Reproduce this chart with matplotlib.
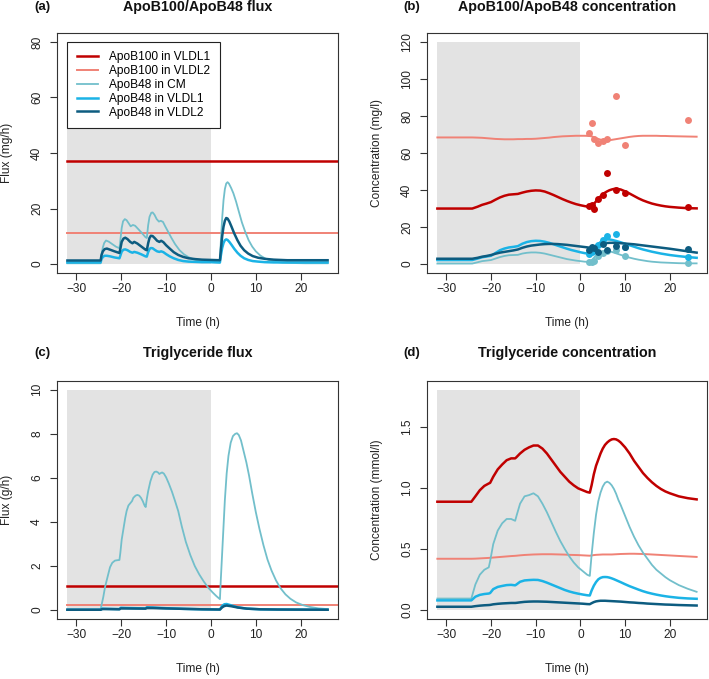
import matplotlib
matplotlib.use("Agg")
import matplotlib.pyplot as plt
from matplotlib.ticker import FormatStrFormatter

plt.rcParams['font.family'] = ['Liberation Sans', 'DejaVu Sans']

# ---------------- data ----------------
labels = ['ApoB100 in VLDL1', 'ApoB100 in VLDL2', 'ApoB48 in CM',
          'ApoB48 in VLDL1', 'ApoB48 in VLDL2']
colors = ['#C00000', '#F08276', '#72BFCB', '#1BB3E6', '#0D5C80']
widths = [1.8, 1.4, 1.3, 1.8, 1.8]

fasting = [-32, 0]          # grey shaded night/fasting window
time_span = [-32, 30]       # constant fluxes

# (a) ApoB flux (mg/h)
a_apob100_vldl1 = [37.2, 37.2]
a_apob100_vldl2 = [11.2, 11.2]
a_t_cm = [-32, -24.6, -24.4, -24.1, -23.8, -23.4, -22.8, -22.0, -21.2, -20.4,
          -20.2, -19.9, -19.6, -19.2, -18.8, -18.3, -17.9, -17.4, -16.9, -16.2,
          -15.4, -14.6, -14.3, -14.0, -13.7, -13.3, -13.0, -12.6, -12.1, -11.6,
          -11.2, -10.7, -10.2, -9.6, -8.8, -8.0, -7.0, -6.0, -5.0, -4.0,
          -3.0, -2.0, -1.0, 0.0, 1.0, 2.0, 2.2, 2.5, 2.8, 3.1,
          3.4, 3.7, 4.0, 4.5, 5.0, 5.6, 6.2, 6.9, 7.6, 8.4,
          9.2, 10.0, 11.0, 12.0, 13.0, 14.5, 16.0, 18.0, 21.0, 26.0]
a_cm = [0.3, 0.3, 3.5, 6.0, 7.6, 8.5, 8.1, 7.2, 6.3, 5.7,
        8.5, 13.0, 15.4, 16.2, 15.8, 14.6, 13.6, 14.1, 13.8, 12.6,
        11.2, 9.7, 9.4, 14.0, 17.0, 18.5, 18.6, 17.8, 16.2, 15.3,
        15.6, 15.2, 13.6, 11.8, 9.4, 7.2, 5.0, 3.5, 2.5, 1.8,
        1.3, 1.0, 0.8, 0.7, 0.6, 0.5, 8.0, 16.5, 23.0, 27.0,
        29.0, 29.5, 29.0, 27.4, 25.5, 22.5, 19.0, 15.0, 11.8, 8.6,
        6.3, 4.6, 3.1, 2.1, 1.4, 0.8, 0.5, 0.4, 0.3, 0.3]
a_t = [-32, -24.6, -24.4, -24.1, -23.7, -23.2, -22.5, -21.5, -20.4, -20.2,
       -19.9, -19.5, -19.1, -18.6, -18.0, -17.5, -17.1, -16.4, -15.5, -14.6,
       -14.3, -14.0, -13.7, -13.4, -13.0, -12.5, -12.0, -11.5, -11.1, -10.6,
       -10.0, -9.2, -8.3, -7.3, -6.2, -5.0, -3.5, -2.0, 0.0, 2.0,
       2.2, 2.5, 2.8, 3.1, 3.4, 3.7, 4.1, 4.6, 5.2, 5.9,
       6.6, 7.4, 8.3, 9.3, 10.5, 12.0, 14.0, 17.0, 26.0]
a_vldl1 = [0.6, 0.6, 1.8, 2.6, 3.0, 3.0, 2.8, 2.4, 2.1, 3.0,
           4.5, 5.2, 5.3, 5.0, 4.4, 4.1, 4.4, 4.1, 3.5, 2.8,
           2.7, 4.3, 5.4, 5.8, 5.7, 5.1, 4.6, 4.4, 4.6, 4.3,
           3.6, 2.8, 2.1, 1.5, 1.1, 0.9, 0.8, 0.7, 0.7, 0.6,
           3.0, 5.8, 7.6, 8.6, 8.9, 8.7, 8.0, 6.9, 5.5, 4.1,
           3.0, 2.1, 1.5, 1.1, 0.9, 0.7, 0.6, 0.6, 0.6]
a_vldl2 = [1.3, 1.3, 3.2, 4.6, 5.4, 5.6, 5.2, 4.6, 4.0, 5.5,
           8.0, 9.2, 9.5, 9.0, 8.0, 7.5, 8.0, 7.4, 6.3, 5.2,
           5.0, 7.5, 9.4, 10.2, 10.1, 9.3, 8.4, 8.0, 8.4, 7.9,
           6.8, 5.6, 4.3, 3.3, 2.6, 2.1, 1.8, 1.6, 1.5, 1.4,
           5.0, 10.0, 13.5, 15.6, 16.6, 16.4, 15.3, 13.4, 11.0, 8.6,
           6.6, 5.0, 3.8, 2.9, 2.3, 1.9, 1.6, 1.4, 1.4]

# (b) ApoB concentration (mg/l), model curves
b_t = [-32, -24.2, -23, -22, -21, -20, -19, -18, -17, -16, -15, -14, -13, -12,
       -11, -10, -9, -8, -7, -6, -5, -4, -3, -2, -1, 0, 1, 2, 2.5, 3, 3.5, 4,
       4.5, 5, 5.5, 6, 6.5, 7, 7.5, 8, 9, 10, 11, 12, 13, 14, 15, 16, 17, 18,
       19, 20, 22, 24, 26]
b_apob100_vldl1 = [30.0, 30.0, 31.0, 32.0, 32.7, 33.5, 34.8, 36.0, 36.9, 37.5,
                   37.7, 37.9, 38.6, 39.2, 39.6, 39.8, 39.7, 39.2, 38.3, 37.3,
                   36.2, 35.1, 34.1, 33.2, 32.4, 31.8, 31.3, 30.9, 31.4, 32.5,
                   33.9, 35.3, 36.6, 37.7, 38.6, 39.3, 39.9, 40.3, 40.6, 40.7,
                   40.3, 39.3, 38.1, 36.8, 35.5, 34.4, 33.5, 32.7, 32.1, 31.6,
                   31.2, 30.9, 30.5, 30.2, 30.1]
b_apob100_vldl2 = [68.4, 68.4, 68.3, 68.2, 68.0, 67.8, 67.6, 67.5, 67.4, 67.4,
                   67.4, 67.5, 67.5, 67.6, 67.6, 67.7, 67.9, 68.1, 68.3, 68.6,
                   68.8, 69.0, 69.1, 69.2, 69.3, 69.3, 69.3, 69.2, 69.0, 68.6,
                   68.1, 67.6, 67.2, 66.9, 66.8, 66.8, 66.9, 67.1, 67.3, 67.5,
                   67.9, 68.3, 68.7, 69.0, 69.2, 69.3, 69.3, 69.3, 69.3, 69.2,
                   69.2, 69.1, 69.0, 68.9, 68.8]
b_cm = [0.3, 0.3, 1.0, 1.6, 1.9, 2.2, 3.0, 3.8, 4.4, 4.8,
        4.9, 5.0, 5.7, 6.1, 6.3, 6.3, 6.1, 5.7, 5.1, 4.5,
        3.9, 3.3, 2.7, 2.3, 1.9, 1.6, 1.3, 1.2, 2.0, 3.4,
        4.7, 5.7, 6.4, 6.8, 7.0, 7.0, 6.9, 6.6, 6.2, 5.8,
        5.0, 4.2, 3.5, 2.9, 2.4, 2.0, 1.6, 1.3, 1.1, 0.9,
        0.8, 0.7, 0.5, 0.4, 0.4]
b_vldl1 = [2.2, 2.2, 3.0, 3.7, 4.1, 4.5, 6.0, 7.5, 8.4, 9.0,
           9.3, 9.7, 11.0, 11.9, 12.4, 12.6, 12.5, 12.1, 11.5, 10.7,
           9.9, 9.1, 8.3, 7.6, 7.0, 6.4, 5.9, 5.6, 6.3, 7.8,
           9.4, 10.8, 11.9, 12.7, 13.1, 13.3, 13.3, 13.1, 12.8, 12.5,
           11.8, 11.0, 10.2, 9.4, 8.6, 7.9, 7.3, 6.7, 6.2, 5.7,
           5.3, 4.9, 4.3, 3.8, 3.4]
b_vldl2 = [2.9, 2.9, 3.4, 4.0, 4.4, 4.9, 5.6, 6.2, 6.6, 7.0,
           7.4, 7.9, 8.8, 9.5, 10.0, 10.3, 10.6, 10.8, 10.9, 10.9,
           10.8, 10.6, 10.4, 10.1, 9.8, 9.5, 9.2, 8.9, 9.0, 9.4,
           9.9, 10.4, 10.8, 11.1, 11.3, 11.4, 11.5, 11.5, 11.5, 11.4,
           11.3, 11.1, 10.9, 10.7, 10.4, 10.1, 9.8, 9.5, 9.2, 8.9,
           8.6, 8.3, 7.6, 6.9, 6.2]

# (b) measured concentrations
obs_t = [2, 2.5, 3, 4, 5, 6, 8, 10, 24]
obs_apob100_vldl1 = [31.5, 31.8, 29.9, 35.4, 37.2, 49.0, 40.0, 38.3, 30.8]
obs_apob100_vldl2 = [70.9, 76.4, 67.4, 65.4, 66.5, 67.8, 91.0, 64.5, 77.8]
obs_cm = [1.4, 1.3, 1.6, 4.2, 6.0, 7.0, 7.8, 4.2, 0.5]
obs_vldl1 = [5.4, 6.5, 7.5, 10.5, 13.0, 15.4, 16.4, 9.5, 3.6]
obs_vldl2 = [7.8, 9.3, 8.5, 6.3, 10.9, 7.8, 10.0, 9.1, 8.2]

# (c) triglyceride flux (g/h)
c_tg_vldl1 = [1.08, 1.08]
c_tg_vldl2 = [0.22, 0.22]
c_t_cm = [-32, -24.6, -24.0, -23.6, -23.0, -22.5, -22.0, -21.4, -20.8, -20.4,
          -20.2, -19.9, -19.5, -19.1, -18.8, -18.4, -18.0, -17.6, -17.3, -16.8,
          -16.4, -16.0, -15.6, -15.2, -14.8, -14.55, -14.3, -14.0, -13.5, -13.0,
          -12.6, -12.2, -11.8, -11.5, -11.2, -10.9, -10.5, -10.0, -9.4, -8.7,
          -8.0, -7.3, -6.5, -5.6, -4.6, -3.6, -2.6, -1.6, -0.6, 0.4,
          1.2, 2.0, 2.2, 2.5, 2.8, 3.1, 3.5, 3.9, 4.4, 4.9,
          5.4, 5.8, 6.2, 6.7, 7.3, 7.9, 8.5, 9.2, 10.0, 10.8,
          11.7, 12.6, 13.5, 14.5, 15.5, 16.6, 17.7, 19.0, 20.5, 22.0,
          24.0, 26.0]
c_cm = [0.03, 0.03, 0.6, 1.06, 1.55, 1.95, 2.15, 2.25, 2.27, 2.28,
        2.6, 3.2, 3.7, 4.2, 4.5, 4.75, 4.85, 4.95, 5.1, 5.2,
        5.23, 5.2, 5.1, 4.95, 4.75, 4.68, 5.05, 5.4, 5.85, 6.15,
        6.27, 6.29, 6.25, 6.18, 6.22, 6.25, 6.2, 6.03, 5.75, 5.38,
        4.95, 4.5, 3.8, 3.1, 2.5, 2.0, 1.62, 1.3, 1.02, 0.8,
        0.64, 0.5, 1.4, 2.6, 3.8, 5.0, 6.2, 7.0, 7.6, 7.9,
        8.0, 8.03, 7.95, 7.7, 7.2, 6.7, 6.1, 5.3, 4.45, 3.7,
        2.95, 2.3, 1.8, 1.35, 1.0, 0.72, 0.52, 0.35, 0.23, 0.15,
        0.08, 0.05]
c_t = [-32, -24.6, -24.2, -23.0, -20.4, -20.1, -19.0, -14.6, -14.3, -13.0,
       -10.0, -6.0, -2.0, 2.0, 2.5, 3.0, 3.5, 4.5, 6.0, 8.0, 11.0, 15.0, 26.0]
c_vldl1 = [0.02, 0.02, 0.07, 0.06, 0.05, 0.11, 0.10, 0.08, 0.13, 0.12,
           0.09, 0.06, 0.04, 0.03, 0.20, 0.27, 0.28, 0.22, 0.13, 0.07,
           0.04, 0.03, 0.02]
c_vldl2 = [0.02, 0.02, 0.05, 0.05, 0.04, 0.08, 0.08, 0.07, 0.10, 0.10,
           0.08, 0.06, 0.04, 0.03, 0.13, 0.19, 0.21, 0.18, 0.12, 0.07,
           0.04, 0.03, 0.02]

# (d) triglyceride concentration (mmol/l)
d_t = [-32, -24.4, -23.5, -22.5, -21.5, -20.5, -20.2, -19.5, -18.5, -17.5,
       -16.5, -15.5, -14.6, -14.3, -13.5, -12.5, -11.5, -10.5, -9.5, -8.5,
       -7.5, -6.5, -5.5, -4.5, -3.5, -2.5, -1.5, -0.5, 0.5, 1.5,
       2.1, 2.5, 3.0, 3.5, 4.0, 4.5, 5.0, 5.5, 6.0, 6.5,
       7.0, 7.5, 8.0, 8.5, 9.0, 10.0, 11.0, 12.0, 13.0, 14.0,
       15.0, 16.0, 17.0, 18.0, 19.0, 20.0, 22.0, 24.0, 26.0]
d_tg_vldl1 = [.886, .886, .93, .98, 1.015, 1.035, 1.04, 1.09, 1.15, 1.19,
              1.225, 1.24, 1.24, 1.25, 1.28, 1.31, 1.33, 1.345, 1.345, 1.32,
              1.28, 1.23, 1.18, 1.13, 1.09, 1.05, 1.02, .995, .98, .965,
              .96, 1.02, 1.11, 1.18, 1.23, 1.28, 1.32, 1.35, 1.37, 1.385,
              1.395, 1.398, 1.395, 1.385, 1.37, 1.33, 1.28, 1.22, 1.17, 1.12,
              1.08, 1.045, 1.015, .99, .97, .955, .93, .915, .905]
d_tg_vldl2 = [.42, .42, .421, .423, .425, .427, .428, .43, .433, .436,
              .439, .442, .444, .445, .448, .451, .453, .455, .456, .457,
              .457, .457, .456, .455, .454, .452, .451, .45, .448, .446,
              .445, .447, .45, .452, .453, .454, .455, .455, .455, .455,
              .455, .456, .457, .458, .459, .46, .461, .461, .46, .459,
              .457, .455, .453, .451, .449, .447, .443, .439, .435]
d_cm = [.095, .095, .21, .29, .33, .35, .40, .54, .65, .71,
        .745, .745, .73, .77, .87, .93, .94, .955, .93, .87,
        .80, .72, .64, .565, .50, .44, .39, .35, .32, .29,
        .28, .45, .63, .78, .89, .96, 1.01, 1.04, 1.05, 1.04,
        1.02, .99, .95, .90, .86, .77, .68, .60, .53, .47,
        .42, .37, .33, .30, .27, .245, .205, .175, .15]
d_vldl1 = [.08, .08, .11, .125, .132, .136, .14, .172, .19, .198,
           .205, .207, .203, .21, .232, .243, .246, .248, .247, .238,
           .225, .21, .195, .18, .165, .153, .143, .135, .128, .122,
           .12, .16, .2, .23, .252, .264, .27, .271, .27, .266,
           .26, .253, .245, .237, .229, .212, .196, .182, .168, .155,
           .144, .135, .127, .12, .114, .109, .101, .096, .093]
d_vldl2 = [.028, .028, .033, .037, .04, .042, .043, .048, .052, .055,
           .057, .059, .059, .06, .064, .068, .07, .071, .071, .07,
           .069, .067, .065, .063, .061, .059, .057, .055, .053, .05,
           .049, .057, .066, .072, .075, .077, .077, .077, .076, .075,
           .074, .073, .072, .071, .07, .067, .064, .062, .059, .057,
           .054, .052, .05, .048, .046, .045, .042, .04, .038]

x_ticks = [-30, -20, -10, 0, 10, 20]

# ---------------- figure ----------------
W, H = 709, 679
fig = plt.figure(figsize=(W / 100, H / 100), dpi=100)


def make_axes(left, top, right, bottom):
    return fig.add_axes([left / W, 1 - bottom / H, (right - left) / W, (bottom - top) / H])


def style(ax, ylo, yhi, yticks, ylabel, title, letter, title_gap):
    x0, x1 = -32, 26
    xp = 0.04 * (x1 - x0)
    yp = 0.04 * (yhi - ylo)
    ax.set_xlim(x0 - xp, x1 + xp)
    ax.set_ylim(ylo - yp, yhi + yp)
    ax.fill_between(fasting, ylo, yhi, color='#E3E3E3', lw=0, zorder=0)
    ax.set_xticks(x_ticks)
    ax.set_yticks(yticks)
    ax.tick_params(direction='out', length=5, width=0.8, color='#333333',
                   labelsize=8.6, labelcolor='#222222')
    ax.tick_params(axis='x', pad=2.5)
    ax.tick_params(axis='y', labelrotation=90, pad=5)
    for lab in ax.get_yticklabels():
        lab.set_va('center')
    for sp in ax.spines.values():
        sp.set_linewidth(0.8)
        sp.set_color('#333333')
    bb = ax.get_position()
    wpx = bb.width * W
    hpx = bb.height * H
    ax.set_xlabel('Time (h)', fontsize=8.6, va='center', color='#222222')
    ax.xaxis.set_label_coords(0.5, -50 / hpx)
    ax.set_ylabel(ylabel, fontsize=8.6, va='center', color='#222222')
    ax.yaxis.set_label_coords(-50 / wpx, 0.5)
    ty = 1 + title_gap / hpx
    ax.text(0.5, ty, title, transform=ax.transAxes, ha='center', va='center',
            fontsize=10.3, fontweight='bold', color='#111111')
    ax.text(-15 / wpx, ty, letter, transform=ax.transAxes, ha='center', va='center',
            fontsize=9.5, fontweight='bold', color='#111111')


# (a)
ax = make_axes(57, 33, 338, 273)
style(ax, 0, 80, [0, 20, 40, 60, 80], 'Flux (mg/h)', 'ApoB100/ApoB48 flux', '(a)', 26)
lines = []
lines += ax.plot(time_span, a_apob100_vldl1, color=colors[0], lw=widths[0])
lines += ax.plot(time_span, a_apob100_vldl2, color=colors[1], lw=widths[1])
lines += ax.plot(a_t_cm, a_cm, color=colors[2], lw=widths[2])
lines += ax.plot(a_t, a_vldl1, color=colors[3], lw=widths[3])
lines += ax.plot(a_t, a_vldl2, color=colors[4], lw=widths[4])
leg = ax.legend(lines, labels, loc='upper left', bbox_to_anchor=(-32, 80),
                bbox_transform=ax.transData, borderaxespad=0, fancybox=False,
                edgecolor='#222222', framealpha=1, fontsize=8.6, handlelength=1.8,
                handletextpad=0.9, borderpad=0.8, labelspacing=0.15)
leg.get_frame().set_linewidth(0.8)

# (b)
ax = make_axes(427, 33, 707, 273)
style(ax, 0, 120, [0, 20, 40, 60, 80, 100, 120], 'Concentration (mg/l)',
      'ApoB100/ApoB48 concentration', '(b)', 26)
ax.plot(b_t, b_apob100_vldl1, color=colors[0], lw=widths[0])
ax.plot(b_t, b_apob100_vldl2, color=colors[1], lw=widths[1])
ax.plot(b_t, b_cm, color=colors[2], lw=widths[2])
ax.plot(b_t, b_vldl1, color=colors[3], lw=widths[3])
ax.plot(b_t, b_vldl2, color=colors[4], lw=widths[4])
for obs, c in zip([obs_apob100_vldl1, obs_apob100_vldl2, obs_cm, obs_vldl1, obs_vldl2], colors):
    ax.plot(obs_t, obs, 'o', color=c, ms=5, mec='none')

# (c)
ax = make_axes(57, 381, 338, 619)
style(ax, 0, 10, [0, 2, 4, 6, 8, 10], 'Flux (g/h)', 'Triglyceride flux', '(c)', 28)
ax.plot(time_span, c_tg_vldl1, color=colors[0], lw=widths[0])
ax.plot(time_span, c_tg_vldl2, color=colors[1], lw=widths[1])
ax.plot(c_t_cm, c_cm, color=colors[2], lw=widths[2])
ax.plot(c_t, c_vldl1, color=colors[3], lw=widths[3])
ax.plot(c_t, c_vldl2, color=colors[4], lw=widths[4])

# (d)
ax = make_axes(427, 381, 707, 619)
style(ax, 0, 1.8, [0.0, 0.5, 1.0, 1.5], 'Concentration (mmol/l)',
      'Triglyceride concentration', '(d)', 28)
ax.yaxis.set_major_formatter(FormatStrFormatter('%.1f'))
ax.plot(d_t, d_tg_vldl1, color=colors[0], lw=widths[0])
ax.plot(d_t, d_tg_vldl2, color=colors[1], lw=widths[1])
ax.plot(d_t, d_cm, color=colors[2], lw=widths[2])
ax.plot(d_t, d_vldl1, color=colors[3], lw=widths[3])
ax.plot(d_t, d_vldl2, color=colors[4], lw=widths[4])

fig.savefig('out.png', dpi=100)
